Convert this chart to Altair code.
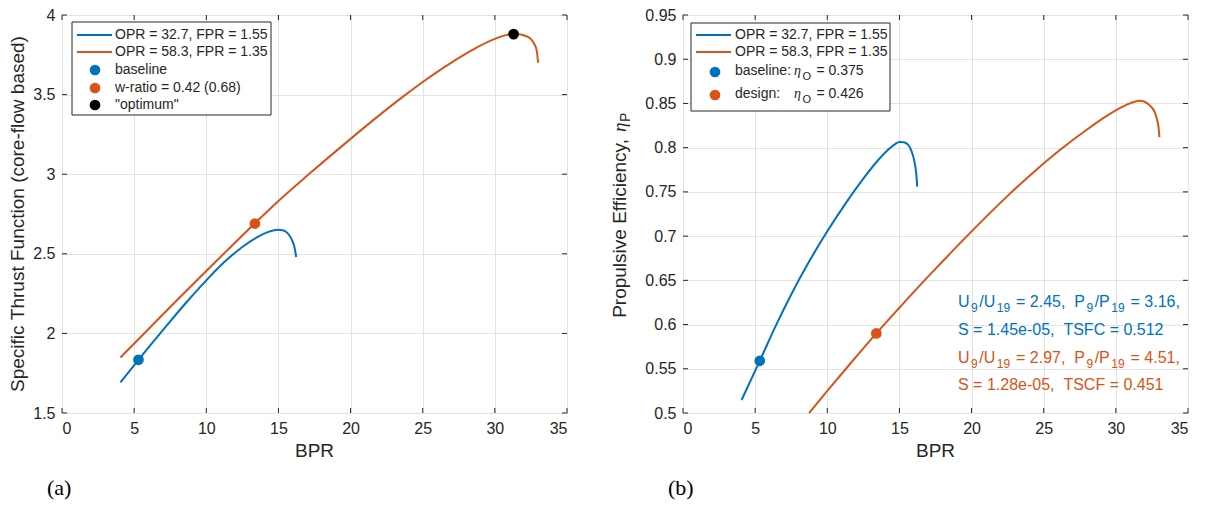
import altair as alt
import pandas as pd

# ---------------- data ----------------
# Panel (a): specific thrust function (core-flow based) vs BPR
a_blue_bpr = [4.05, 5.3, 6.0, 7.5, 8.75, 10.0, 11.25, 12.5, 13.5, 14.25, 14.7, 15.0, 15.3, 15.6, 15.85, 16.0, 16.12, 16.23]
a_blue_val = [1.692, 1.834, 1.912, 2.076, 2.208, 2.333, 2.448, 2.543, 2.603, 2.636, 2.648, 2.651, 2.648, 2.633, 2.603, 2.573, 2.538, 2.48]
a_orng_bpr = [4.05, 6.0, 8.0, 10.0, 12.0, 13.37, 15.0, 17.1, 20.0, 22.0, 23.75, 25.0, 26.5, 28.0, 29.0, 30.0, 30.7, 31.3, 31.8, 32.2, 32.5, 32.75, 32.9, 33.0]
a_orng_val = [1.849, 2.028, 2.211, 2.392, 2.571, 2.692, 2.832, 2.999, 3.222, 3.371, 3.495, 3.579, 3.673, 3.758, 3.808, 3.850, 3.872, 3.881, 3.878, 3.866, 3.848, 3.815, 3.778, 3.70]
a_pts_bpr = [5.3, 13.37, 31.3]
a_pts_val = [1.834, 2.69, 3.88]

# Panel (b): propulsive efficiency vs BPR
b_blue_bpr = [4.06, 5.32, 6.5, 7.5, 8.75, 10.0, 11.25, 12.5, 13.5, 14.25, 14.7, 15.0, 15.3, 15.6, 15.85, 16.05, 16.17, 16.23]
b_blue_val = [0.5147, 0.559, 0.601, 0.634, 0.6715, 0.7055, 0.7365, 0.765, 0.7855, 0.7983, 0.8041, 0.8065, 0.8062, 0.8035, 0.7955, 0.7835, 0.770, 0.756]
b_orng_bpr = [8.74, 10.0, 11.5, 13.4, 15.0, 16.4, 17.5, 19.44, 22.5, 24.0, 26.1, 28.0, 29.0, 30.3, 30.8, 31.3, 31.6, 31.9, 32.1, 32.4, 32.67, 32.85, 32.95, 33.02]
b_orng_val = [0.5, 0.525, 0.554, 0.590, 0.619, 0.644, 0.663, 0.696, 0.7455, 0.768, 0.797, 0.8205, 0.832, 0.845, 0.849, 0.852, 0.853, 0.8525, 0.851, 0.847, 0.841, 0.832, 0.824, 0.812]
b_pts_bpr = [5.32, 13.4]
b_pts_val = [0.559, 0.590]

x_ticks = [0, 5, 10, 15, 20, 25, 30, 35]
ya_ticks = [1.5, 2, 2.5, 3, 3.5, 4]
yb_ticks = [0.5, 0.55, 0.6, 0.65, 0.7, 0.75, 0.8, 0.85, 0.9, 0.95]

series_labels = ["OPR = 32.7, FPR = 1.55", "OPR = 58.3, FPR = 1.35"]
a_point_labels = ["baseline", "w-ratio = 0.42 (0.68)", "\"optimum\""]
b_point_labels = [[("baseline:", "n"), ("\u03b7", "g"), ("O", "s"), (" = 0.375", "n")],
                  [("design:", "n"), ("\u03b7", "g"), ("O", "s"), (" = 0.426", "n")]]
annot_blue = [[("U", 0), ("9", 1), ("/U", 0), ("19", 1), (" = 2.45,  P", 0), ("9", 1), ("/P", 0), ("19", 1), (" = 3.16,", 0)],
              [("S = 1.45e-05,  TSFC = 0.512", 0)]]
annot_orng = [[("U", 0), ("9", 1), ("/U", 0), ("19", 1), (" = 2.97,  P", 0), ("9", 1), ("/P", 0), ("19", 1), (" = 4.51,", 0)],
              [("S = 1.28e-05,  TSCF = 0.451", 0)]]
a_ytitle = "Specific Thrust Function (core-flow based)"
b_ytitle = [("Propulsive Efficiency, ", "n"), ("\u03b7", "g"), ("P", "s")]
x_title = "BPR"
panel_tags = ["(a)", "(b)"]

# ---------------- style ----------------
BLUE = "#0072BD"
ORANGE = "#D95319"
BLACK = "#000000"
AX = "#262626"
GRID = "#e3e3e3"
FONT = "Liberation Sans"
W, H = 505, 398
TICK_FS = 16
TITLE_FS = 19
LEG_FS = 14

ARIAL = {' ': 278, '!': 278, '"': 355, '(': 333, ')': 333, ',': 278, '-': 333, '.': 278, '/': 278,
         ':': 278, '=': 584, 'A': 667, 'B': 667, 'C': 722, 'D': 722, 'E': 667, 'F': 611, 'G': 778,
         'H': 722, 'I': 278, 'O': 778, 'P': 667, 'R': 722, 'S': 667, 'T': 611, 'U': 722,
         'a': 556, 'b': 556, 'c': 500, 'd': 556, 'e': 556, 'f': 278, 'g': 556, 'h': 556, 'i': 222,
         'l': 222, 'm': 833, 'n': 556, 'o': 556, 'p': 556, 'r': 333, 's': 500, 't': 278, 'u': 556,
         'v': 500, 'w': 722, 'y': 500, '\u03b7': 500}


def tw(s, size):
    return sum(ARIAL.get(c, 556) for c in s) / 1000.0 * size


one = pd.DataFrame({"k": [0]})


def vtext(txt, x, y, size, color=AX, font=FONT, align="left", angle=0, dx=0, dy=0, style="normal"):
    return alt.Chart(one).mark_text(
        text=txt.replace(" ", "\u00a0"), font=font, fontSize=size, color=color, align=align,
        baseline="middle", angle=angle, dx=dx, dy=dy, fontStyle=style
    ).encode(x=alt.value(x), y=alt.value(y))


def rich(segs, x, y, size, subsize, subdy, color=AX, angle=0, gap=1.5, greek_at=None):
    """Draw text with subscripts as consecutive segments starting at (x, y)."""
    layers = []
    cur = 0.0
    for s, kind in segs:
        if kind in (1, "s"):
            cur += gap
            layers.append(vtext(s, x, y, subsize, color, angle=angle, dx=cur, dy=subdy))
            cur += tw(s, subsize) + gap
        elif kind == "g":
            if greek_at is not None:
                cur = greek_at
            layers.append(vtext(s, x, y, size, color, font="Liberation Serif", angle=angle, dx=cur,
                                dy=0, style="italic"))
            cur += tw(s, size)
        else:
            lead = len(s) - len(s.lstrip(" "))
            cur += tw(" " * lead, size)
            body = s.lstrip(" ")
            layers.append(vtext(body, x, y, size, color, angle=angle, dx=cur, dy=0))
            cur += tw(body, size)
    return layers, cur


def panel(blue_x, blue_y, orng_x, orng_y, pts_x, pts_y, pts_c, ydom, yticks, legend_layers,
          extra_layers, tag):
    xs = alt.Scale(domain=[0, 35], nice=False, zero=False)
    ys = alt.Scale(domain=ydom, nice=False, zero=False)
    xaxis = alt.Axis(values=x_ticks, format="~g", grid=True, gridColor=GRID, gridWidth=1, domain=False,
                     ticks=False, labelFont=FONT, labelFontSize=TICK_FS, labelColor=AX, labelPadding=7,
                     title=None)
    yaxis = alt.Axis(values=yticks, format="~g", grid=True, gridColor=GRID, gridWidth=1, domain=False,
                     ticks=False, labelFont=FONT, labelFontSize=TICK_FS, labelColor=AX, labelPadding=7,
                     title=None)
    X = lambda f: alt.X(f, type="quantitative", scale=xs, axis=xaxis)
    Y = lambda f: alt.Y(f, type="quantitative", scale=ys, axis=yaxis)

    blue = pd.DataFrame({"bpr": blue_x, "v": blue_y})
    orng = pd.DataFrame({"bpr": orng_x, "v": orng_y})
    pts = pd.DataFrame({"bpr": pts_x, "v": pts_y, "c": pts_c})

    l_blue = alt.Chart(blue).mark_line(color=BLUE, strokeWidth=2, interpolate="monotone").encode(
        x=X("bpr"), y=Y("v"), order=alt.Order("bpr:Q"))
    l_orng = alt.Chart(orng).mark_line(color=ORANGE, strokeWidth=2, interpolate="monotone").encode(
        x=X("bpr"), y=Y("v"), order=alt.Order("bpr:Q"))
    l_pts = alt.Chart(pts).mark_circle(size=115, opacity=1).encode(
        x=X("bpr"), y=Y("v"), color=alt.Color("c:N", scale=None))

    xt = pd.DataFrame({"t": x_ticks})
    yt = pd.DataFrame({"t": yticks})
    t_bot = alt.Chart(xt).mark_rule(color=AX, strokeWidth=1).encode(x=X("t"), y=alt.value(H), y2=alt.value(H - 5))
    t_top = alt.Chart(xt).mark_rule(color=AX, strokeWidth=1).encode(x=X("t"), y=alt.value(0), y2=alt.value(5))
    t_lft = alt.Chart(yt).mark_rule(color=AX, strokeWidth=1).encode(y=Y("t"), x=alt.value(0), x2=alt.value(5))
    t_rgt = alt.Chart(yt).mark_rule(color=AX, strokeWidth=1).encode(y=Y("t"), x=alt.value(W), x2=alt.value(W - 5))

    xtitle = vtext(x_title, W / 2, H + 38, TITLE_FS, align="center")
    tagt = alt.Chart(one).mark_text(text=tag, font="Liberation Serif", fontSize=22, color="#000000",
                                    align="left", baseline="alphabetic").encode(
        x=alt.value(-15), y=alt.value(H + 82))

    return alt.layer(l_blue, l_orng, l_pts, t_bot, t_top, t_lft, t_rgt, *legend_layers, *extra_layers,
                     xtitle, tagt).properties(width=W, height=H)


def legend_box(x0, y0, x1, y1):
    return alt.Chart(one).mark_rect(fill="white", stroke=AX, strokeWidth=1).encode(
        x=alt.value(x0), x2=alt.value(x1), y=alt.value(y0), y2=alt.value(y1))


def leg_line(x0, x1, y, color):
    return alt.Chart(one).mark_rule(color=color, strokeWidth=2).encode(
        x=alt.value(x0), x2=alt.value(x1), y=alt.value(y))


def leg_dot(x, y, color):
    return alt.Chart(one).mark_circle(size=115, opacity=1, color=color).encode(x=alt.value(x), y=alt.value(y))


# ----- panel (a) legend -----
la = [legend_box(10, 7, 209, 100),
      leg_line(15, 50, 20, BLUE), vtext(series_labels[0], 53, 20, LEG_FS),
      leg_line(15, 50, 37, ORANGE), vtext(series_labels[1], 53, 37, LEG_FS),
      leg_dot(33, 55, BLUE), vtext(a_point_labels[0], 53, 55, LEG_FS),
      leg_dot(33, 73, ORANGE), vtext(a_point_labels[1], 53, 73, LEG_FS),
      leg_dot(33, 90, BLACK), vtext(a_point_labels[2], 53, 90, LEG_FS)]
a_title = [vtext(a_ytitle, -44, H / 2, TITLE_FS, align="center", angle=270)]

# ----- panel (b) legend -----
lb = [legend_box(8, 8, 207, 96),
      leg_line(13, 48, 20, BLUE), vtext(series_labels[0], 52, 20, LEG_FS),
      leg_line(13, 48, 37, ORANGE), vtext(series_labels[1], 52, 37, LEG_FS),
      leg_dot(32, 57, BLUE), leg_dot(32, 80, ORANGE)]
r1, _ = rich(b_point_labels[0], 52, 56, LEG_FS, 11, 6, greek_at=59)
r2, _ = rich(b_point_labels[1], 52, 79, LEG_FS, 11, 6, greek_at=59)
lb += r1 + r2

# ----- panel (b) annotations -----
ann = []
for i, segs in enumerate(annot_blue):
    ann += rich(segs, 275, 287 + 28 * i, 16, 12, 6, color=BLUE)[0]
for i, segs in enumerate(annot_orng):
    ann += rich(segs, 275, 343 + 27 * i, 16, 12, 6, color=ORANGE)[0]

# ----- panel (b) y title with subscript -----
_, bw = rich(b_ytitle, 0, 0, TITLE_FS, 14, 6)
bt, _ = rich(b_ytitle, -63, H / 2 + bw / 2, TITLE_FS, 14, 6, angle=270, gap=0.5)

pa = panel(a_blue_bpr, a_blue_val, a_orng_bpr, a_orng_val, a_pts_bpr, a_pts_val,
           [BLUE, ORANGE, BLACK], [1.5, 4], ya_ticks, la, a_title, panel_tags[0])
pb = panel(b_blue_bpr, b_blue_val, b_orng_bpr, b_orng_val, b_pts_bpr, b_pts_val,
           [BLUE, ORANGE], [0.5, 0.95], yb_ticks, lb, ann + bt, panel_tags[1])

chart = alt.hconcat(pa, pb, spacing=42, padding={"left": 0, "top": -2, "right": 0, "bottom": 0}).configure_view(
    stroke=AX, strokeWidth=1
).configure(background="white")

chart.save("out.html", embed_options={"renderer": "svg", "actions": False})
